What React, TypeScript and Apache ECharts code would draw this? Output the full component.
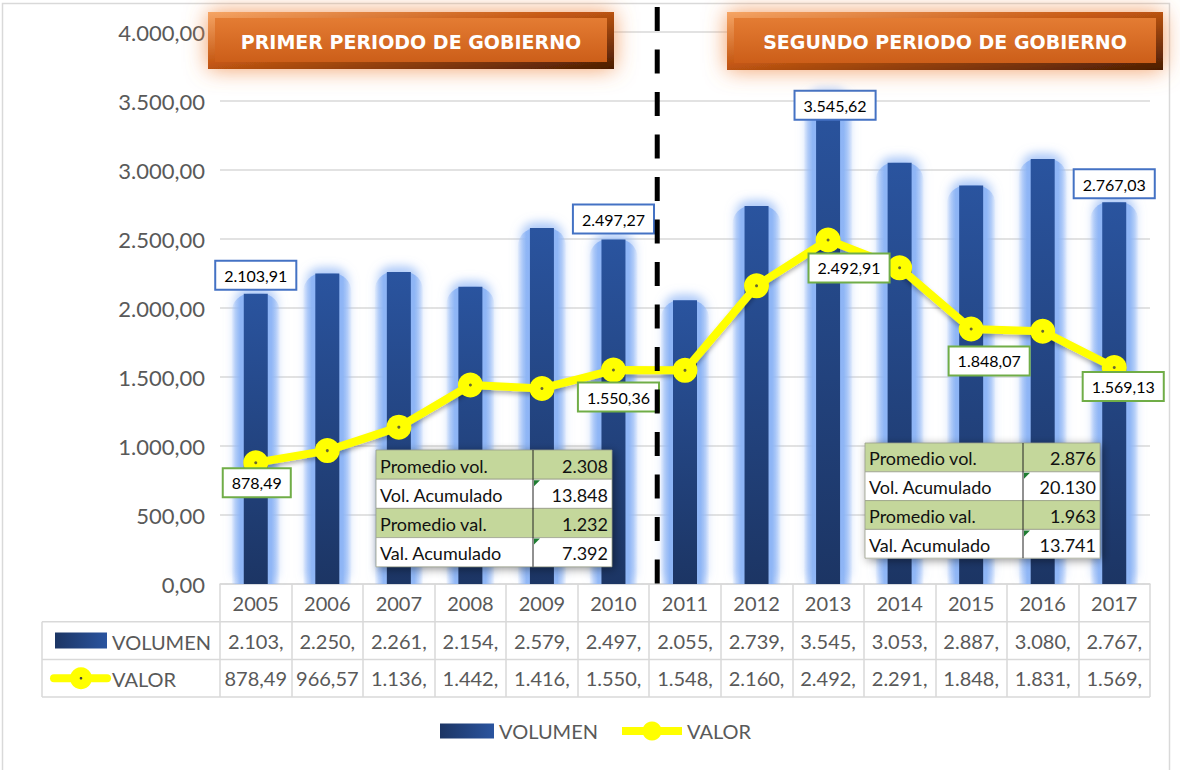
import React, { useEffect, useRef } from "react";
import * as echarts from "echarts";

const years = ["2005", "2006", "2007", "2008", "2009", "2010", "2011", "2012", "2013", "2014", "2015", "2016", "2017"];
const volumen = [2103.91, 2250.48, 2261.35, 2154.62, 2579.18, 2497.27, 2055.4, 2739.55, 3545.62, 3053.2, 2887.64, 3080.51, 2767.03];
const valor = [878.49, 966.57, 1136.42, 1442.15, 1416.7, 1550.36, 1548.22, 2160.45, 2492.91, 2291.3, 1848.07, 1831.55, 1569.13];
const statLabels = ["Promedio vol.", "Vol. Acumulado", "Promedio val.", "Val. Acumulado"];
const statsPeriod1 = [2308, 13848, 1232, 7392];
const statsPeriod2 = [2876, 20130, 1963, 13741];
const periodTitles = ["PRIMER PERIODO DE GOBIERNO", "SEGUNDO PERIODO DE GOBIERNO"];
const yTicks = { min: 0, max: 4000, interval: 500 };

// label styling per index (layout only)
const barLabelCfg: Record<number, any> = {
  0: { distance: 5, offset: [0, 0] },
  5: { distance: 7, offset: [0, 0] },
  8: { distance: 5, offset: [7, 29] },
  12: { distance: 5, offset: [0, 0] },
};
const lineLabelCfg: Record<number, any> = {
  0: { offset: [1, 20] },
  5: { offset: [5, 27] },
  8: { offset: [21, 28] },
  10: { offset: [18, 32] },
  12: { offset: [9, 19] },
};

function fmtNum(v: number, d: number): string {
  const fixed = v.toFixed(d);
  const [i, dec] = fixed.split(".");
  const intS = i.replace(/\B(?=(\d{3})+(?!\d))/g, ".");
  return dec ? intS + "," + dec : intS;
}
function tableText(v: number): string {
  const s = fmtNum(v, 2);
  if (v >= 1000) return s.slice(0, s.indexOf(",") + 1);
  return s;
}

const W = 1180;
const H = 770;
const GRID = { left: 220, right: 30, top: 32, bottom: 186 };
const FONT = "Lato, 'Open Sans', sans-serif";
const GREY = "#595959";
const LINEC = "#d9d9d9";
const ZTOP = 100;

function headerBox(x: number, y: number, w: number, h: number, text: string) {
  return {
    type: "group",
    x,
    y,
    z: ZTOP,
    children: [
      {
        type: "rect",
        z: ZTOP,
        shape: { x: 0, y: 0, width: w, height: h },
        style: {
          fill: new echarts.graphic.LinearGradient(0, 0, 1, 1, [
            { offset: 0, color: "#f6a565" },
            { offset: 0.45, color: "#c55813" },
            { offset: 1, color: "#4a1d04" },
          ]),
          shadowBlur: 22,
          shadowColor: "rgba(240,140,70,0.85)",
        },
      },
      {
        type: "rect",
        z: ZTOP,
        shape: { x: 7, y: 6, width: w - 14, height: h - 13 },
        style: {
          fill: new echarts.graphic.LinearGradient(0, 0, 0, 1, [
            { offset: 0, color: "#e47c33" },
            { offset: 1, color: "#cc5e19" },
          ]),
        },
      },
      {
        type: "text",
        z: ZTOP + 1,
        x: w / 2,
        y: h / 2 + 1,
        style: {
          text,
          fill: "#fff",
          font: "bold 19px 'DejaVu Sans', Arial, sans-serif",
          align: "center",
          verticalAlign: "middle",
        },
      },
    ],
  };
}

function statTable(x: number, y: number, w: number, split: number, rowH: number, vals: number[]) {
  const children: any[] = [];
  children.push({
    type: "rect",
    z: ZTOP,
    shape: { x: 0, y: 0, width: w, height: rowH * 4 },
    style: { fill: "#fff", shadowBlur: 10, shadowColor: "rgba(0,0,0,0.45)", shadowOffsetX: 2, shadowOffsetY: 2 },
  });
  statLabels.forEach((lab, i) => {
    const green = i % 2 === 0;
    children.push({
      type: "rect",
      z: ZTOP + 1,
      shape: { x: 0, y: i * rowH, width: w, height: rowH },
      style: { fill: green ? "#c4d79b" : "#ffffff", stroke: "#9aa08a", lineWidth: 0.8 },
    });
    children.push({
      type: "text",
      z: ZTOP + 3,
      x: 4,
      y: i * rowH + rowH / 2 + 1,
      style: { text: lab, fill: "#111", font: `18px ${FONT}`, verticalAlign: "middle" },
    });
    children.push({
      type: "text",
      z: ZTOP + 3,
      x: w - 4,
      y: i * rowH + rowH / 2 + 1,
      style: { text: fmtNum(vals[i], 0), fill: "#111", font: `18px ${FONT}`, align: "right", verticalAlign: "middle" },
    });
    if (!green) {
      children.push({
        type: "polygon",
        z: ZTOP + 3,
        shape: { points: [[split + 1, i * rowH + 1], [split + 7, i * rowH + 1], [split + 1, i * rowH + 7]] },
        style: { fill: "#1e7d32" },
      });
    }
  });
  children.push({
    type: "line",
    z: ZTOP + 2,
    shape: { x1: split, y1: 0, x2: split, y2: rowH * 4 },
    style: { stroke: "#222", lineWidth: 1 },
  });
  return { type: "group", x, y, z: ZTOP, children };
}

export default function App() {
  const ref = useRef<HTMLDivElement>(null);
  useEffect(() => {
    if (!ref.current) return;
    const chart = echarts.init(ref.current, undefined, { renderer: "svg" });
    const plotW = W - GRID.left - GRID.right;
    const colW = plotW / years.length;
    const axisY = H - GRID.bottom;
    const rowH = 37.7;
    const tableRight = W - GRID.right;

    const barGradient = new echarts.graphic.LinearGradient(0, 0, 0, 1, [
      { offset: 0, color: "#2a549f" },
      { offset: 1, color: "#1c3564" },
    ]);
    const legendBarGradient = new echarts.graphic.LinearGradient(0, 0, 1, 0, [
      { offset: 0, color: "#1c3564" },
      { offset: 1, color: "#2a549f" },
    ]);
    const glowGradient = new echarts.graphic.LinearGradient(0, 0, 1, 0, [
      { offset: 0, color: "rgba(160,192,248,0.1)" },
      { offset: 0.08, color: "rgba(150,186,246,0.55)" },
      { offset: 0.18, color: "rgba(140,180,245,0.95)" },
      { offset: 0.82, color: "rgba(140,180,245,0.95)" },
      { offset: 0.92, color: "rgba(150,186,246,0.55)" },
      { offset: 1, color: "rgba(160,192,248,0.1)" },
    ]);

    const barData = volumen.map((v, i) => {
      const cfg = barLabelCfg[i];
      if (!cfg) return v;
      return {
        value: v,
        label: {
          show: true,
          position: "top",
          distance: cfg.distance,
          offset: cfg.offset,
          formatter: (p: any) => fmtNum(p.value, 2),
          backgroundColor: "#fff",
          borderColor: "#4472c4",
          borderWidth: 2,
          padding: [6, 8, 5, 8],
          color: "#000",
          fontSize: 16,
          fontFamily: FONT,
        },
      };
    });
    const lineData = valor.map((v, i) => {
      const cfg = lineLabelCfg[i];
      if (!cfg) return v;
      return {
        value: v,
        label: {
          show: true,
          position: "inside",
          offset: cfg.offset,
          formatter: (p: any) => fmtNum(p.value, 2),
          backgroundColor: "#fff",
          borderColor: "#70ad47",
          borderWidth: 2,
          padding: [6, 8, 5, 8],
          color: "#000",
          fontSize: 16,
          fontFamily: FONT,
        },
      };
    });

    const graphics: any[] = [
      {
        type: "rect",
        z: -10,
        shape: { x: 2.5, y: 3.5, width: 1167, height: 780 },
        style: { fill: "none", stroke: LINEC, lineWidth: 1.5 },
      },
      headerBox(208, 12, 406, 57, periodTitles[0]),
      headerBox(727, 12, 436, 58, periodTitles[1]),
      {
        type: "line",
        z: ZTOP + 10,
        shape: { x1: GRID.left + 6 * colW + 8, y1: 7, x2: GRID.left + 6 * colW + 8, y2: axisY },
        style: { stroke: "#000", lineWidth: 5, lineDash: [24, 18.5] },
      },
      statTable(376, 450, 236, 157, 29.2, statsPeriod1),
      statTable(865, 443, 235, 158, 28.8, statsPeriod2),
    ];
    // data table borders
    [1, 2, 3].forEach((k) => {
      graphics.push({
        type: "line",
        shape: { x1: 42, y1: axisY + k * rowH, x2: tableRight, y2: axisY + k * rowH },
        style: { stroke: LINEC, lineWidth: 1.5 },
      });
    });
    graphics.push({
      type: "line",
      shape: { x1: 42, y1: axisY + rowH, x2: 42, y2: axisY + 3 * rowH },
      style: { stroke: LINEC, lineWidth: 1.5 },
    });
    // row headers
    const r1 = axisY + rowH * 1.5;
    const r2 = axisY + rowH * 2.5;
    graphics.push(
      {
        type: "rect",
        shape: { x: 55, y: r1 - 8, width: 52, height: 16 },
        style: { fill: legendBarGradient },
      },
      {
        type: "text",
        x: 112,
        y: r1 + 1,
        style: { text: "VOLUMEN", fill: GREY, font: `20px ${FONT}`, verticalAlign: "middle" },
      },
      {
        type: "line",
        shape: { x1: 54, y1: r2, x2: 107, y2: r2 },
        style: { stroke: "#ffff00", lineWidth: 8, lineCap: "round" },
      },
      { type: "circle", shape: { cx: 81, cy: r2, r: 11 }, style: { fill: "#ffff00" } },
      { type: "circle", shape: { cx: 81, cy: r2, r: 1.3 }, style: { fill: "#404040" } },
      {
        type: "text",
        x: 112,
        y: r2 + 1,
        style: { text: "VALOR", fill: GREY, font: `20px ${FONT}`, verticalAlign: "middle" },
      }
    );

    chart.setOption({
      animation: false,
      backgroundColor: "#fff",
      grid: { left: GRID.left, right: GRID.right, top: GRID.top, bottom: GRID.bottom, containLabel: false },
      legend: [
        {
          left: 435,
          top: 716,
          itemWidth: 54,
          itemHeight: 15,
          textStyle: { color: GREY, fontSize: 20, fontFamily: FONT },
          data: [{ name: "VOLUMEN", icon: "rect", itemStyle: { color: legendBarGradient, shadowBlur: 0 } }],
        },
        {
          left: 613,
          top: 716,
          itemWidth: 60,
          itemHeight: 24,
          textStyle: { color: GREY, fontSize: 20, fontFamily: FONT },
          data: [{ name: "VALOR", lineStyle: { width: 8, shadowBlur: 0 }, itemStyle: { shadowBlur: 0 } }],
        },
      ],
      xAxis: [
        {
          type: "category",
          data: years,
          boundaryGap: true,
          axisLine: { show: true, lineStyle: { color: LINEC, width: 1.5 } },
          axisTick: { show: true, length: rowH * 3, inside: false, lineStyle: { color: LINEC, width: 1.5 } },
          axisLabel: {
            interval: 0,
            margin: 0,
            color: GREY,
            fontSize: 20,
            fontFamily: FONT,
            lineHeight: rowH,
            formatter: (v: string, i: number) => `${v}\n${tableText(volumen[i])}\n${tableText(valor[i])}`,
          },
        },
        {
          type: "category",
          data: years,
          boundaryGap: true,
          show: false,
          position: "bottom",
        },
      ],
      yAxis: {
        type: "value",
        min: yTicks.min,
        max: yTicks.max,
        interval: yTicks.interval,
        axisLine: { show: false },
        axisTick: { show: false },
        splitLine: { lineStyle: { color: LINEC, width: 1.5 } },
        axisLabel: {
          margin: 15,
          color: GREY,
          fontSize: 22,
          fontFamily: FONT,
          formatter: (v: number) => fmtNum(v, 2),
        },
      },
      series: [
        {
          name: "glow",
          type: "bar",
          xAxisIndex: 1,
          data: volumen,
          barWidth: 48,
          z: 1,
          silent: true,
          itemStyle: {
            color: glowGradient,
            borderRadius: [18, 18, 0, 0],
            shadowBlur: 10,
            shadowOffsetY: -6,
            shadowColor: "rgba(150,186,246,0.8)",
          },
        },
        {
          name: "VOLUMEN",
          type: "bar",
          data: barData,
          barWidth: 24,
          z: 2,
          itemStyle: {
            color: barGradient,
          },
        },
        {
          name: "VALOR",
          type: "line",
          data: lineData,
          z: 4,
          symbol: "circle",
          symbolSize: 25,
          lineStyle: {
            color: "#ffff00",
            width: 8,
            shadowColor: "rgba(0,0,0,0.3)",
            shadowBlur: 4,
            shadowOffsetY: 3,
          },
          itemStyle: { color: "#ffff00", borderWidth: 0 },
        },
        {
          name: "dots",
          type: "scatter",
          data: valor,
          z: 5,
          silent: true,
          symbolSize: 3,
          itemStyle: { color: "#404040" },
        },
      ],
      graphic: graphics,
    });
    return () => chart.dispose();
  }, []);
  return (
    <div
      ref={ref}
      style={{ position: "absolute", left: 0, top: 0, width: W, height: H, background: "#fff" }}
    />
  );
}
